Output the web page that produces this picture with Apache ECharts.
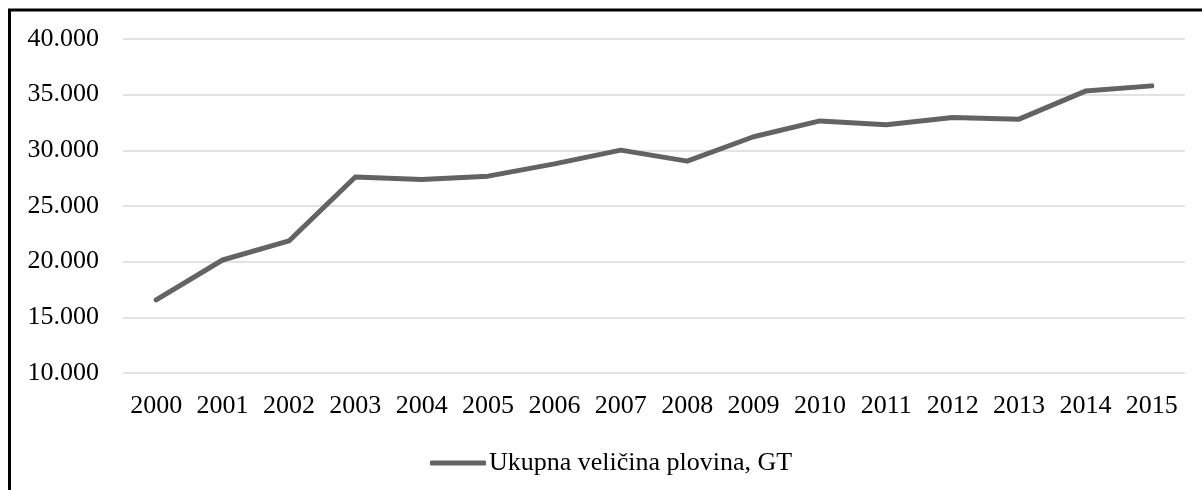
<!DOCTYPE html>
<html>
<head>
<meta charset="utf-8">
<script src="https://cdn.jsdelivr.net/npm/echarts@6/dist/echarts.min.js"></script>
<style>
html,body{margin:0;padding:0;background:#fff;}
#chart{width:1202px;height:490px;}
</style>
</head>
<body>
<div id="chart"></div>
<script>
const years = ['2000','2001','2002','2003','2004','2005','2006','2007','2008','2009','2010','2011','2012','2013','2014','2015'];
const seriesName = 'Ukupna veličina plovina, GT';
const values = [16570, 20150, 21860, 27610, 27380, 27680, 28780, 30020, 29030, 31220, 32640, 32290, 32940, 32800, 35320, 35790];
const yMin = 10000, yMax = 40000, yStep = 5000;

const fmt = v => String(v).replace(/\B(?=(\d{3})+(?!\d))/g, '.');
const font = '"Liberation Serif", "Times New Roman", serif';

const chart = echarts.init(document.getElementById('chart'), null, {renderer: 'canvas'});
chart.setOption({
  animation: false,
  backgroundColor: '#fff',
  graphic: [{
    type: 'rect',
    shape: {x: 9.5, y: 10, width: 1300, height: 600},
    style: {fill: 'none', stroke: '#000', lineWidth: 3},
    silent: true
  }],
  grid: {left: 123, right: 17, top: 39, bottom: 117},
  legend: {
    data: [seriesName],
    left: 425,
    top: 445,
    icon: 'roundRect',
    itemWidth: 56,
    itemHeight: 5,
    itemGap: 10,
    textStyle: {fontFamily: font, fontSize: 26, color: '#000', padding: [0,0,0,-2]}
  },
  xAxis: {
    type: 'category',
    data: years,
    boundaryGap: true,
    axisLine: {show: false},
    axisTick: {show: false},
    axisLabel: {fontFamily: font, fontSize: 26, color: '#000', margin: 20, interval: 0}
  },
  yAxis: {
    type: 'value',
    min: yMin, max: yMax, interval: yStep,
    axisLine: {show: false},
    axisTick: {show: false},
    splitLine: {lineStyle: {color: '#d9d9d9', width: 1.5}},
    axisLabel: {fontFamily: font, fontSize: 26, color: '#000', margin: 24, formatter: fmt}
  },
  series: [{
    name: seriesName,
    type: 'line',
    data: values,
    symbol: 'none',
    lineStyle: {color: '#636363', width: 5, cap: 'round', join: 'round'},
    itemStyle: {color: '#636363'}
  }]
});
</script>
</body>
</html>
